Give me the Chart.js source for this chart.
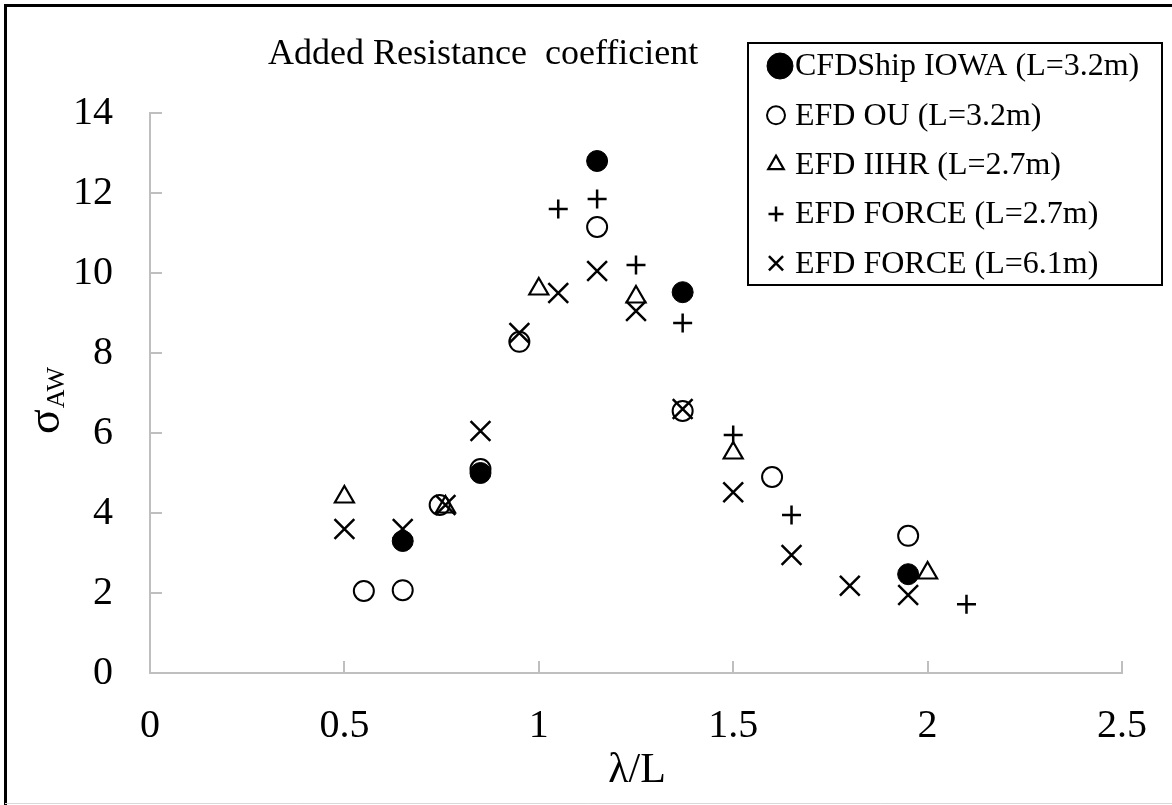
<!DOCTYPE html>
<html lang="en">
<head>
  <meta charset="UTF-8">
  <title>Added Resistance coefficient</title>
  <script src="https://cdn.jsdelivr.net/npm/chart.js"></script>
  <style>
    html, body { margin: 0; padding: 0; background: white; }
    #wrap { width: 1172px; height: 805px; position: relative; }
  </style>
</head>
<body>
<div id="wrap"><canvas id="aw-chart" width="1172" height="805"></canvas></div>

<script>
// sigma_AW vs lambda/L for each source
const seriesNames = ['CFDShip IOWA (L=3.2m)', 'EFD OU (L=3.2m)', 'EFD IIHR (L=2.7m)', 'EFD FORCE (L=2.7m)', 'EFD FORCE (L=6.1m)'];

const cfdX = [0.65, 0.85, 1.15, 1.37, 1.95];
const cfdY = [3.3, 5.0, 12.8, 9.52, 2.47];

const ouX = [0.55, 0.65, 0.745, 0.85, 0.95, 1.15, 1.37, 1.6, 1.95];
const ouY = [2.05, 2.07, 4.2, 5.1, 8.28, 11.15, 6.55, 4.9, 3.43];

const iihrX = [0.5, 0.76, 1.0, 1.25, 1.5, 2.0];
const iihrY = [4.4, 4.15, 9.6, 9.4, 5.5, 2.5];

const force27X = [1.05, 1.15, 1.25, 1.37, 1.5, 1.65, 2.1];
const force27Y = [11.6, 11.85, 10.2, 8.75, 5.95, 3.95, 1.72];

const force61X = [0.5, 0.65, 0.76, 0.85, 0.95, 1.05, 1.15, 1.25, 1.37, 1.5, 1.65, 1.8, 1.95];
const force61Y = [3.6, 3.6, 4.2, 6.05, 8.5, 9.5, 10.05, 9.05, 6.6, 4.52, 2.95, 2.18, 1.95];

const xTickValues = [0, 0.5, 1, 1.5, 2, 2.5];
const xTickLabels = ['0', '0.5', '1', '1.5', '2', '2.5'];
const yTickValues = [0, 2, 4, 6, 8, 10, 12, 14];
const yTickLabels = ['0', '2', '4', '6', '8', '10', '12', '14'];

const chartTitle = 'Added Resistance  coefficient';
const xTitle = 'λ/L';
const yTitleMain = 'σ';
const yTitleSub = 'AW';

const SERIF = '"Liberation Serif", "Times New Roman", serif';
const AXIS_GRAY = '#bfbfbf';

function pairs(xs, ys) { return xs.map((x, i) => ({ x: x, y: ys[i] })); }

// marker looks, plot size and legend size
const markers = [
  { style: 'circle',   r: 10.5, fill: 'black',       bw: 1,   lr: 13 },
  { style: 'circle',   r: 10,   fill: 'transparent', bw: 2,   lr: 9 },
  { style: 'triangle', r: 11,   fill: 'transparent', bw: 2.2, lr: 9 },
  { style: 'cross',    r: 9.5,  fill: 'transparent', bw: 2.5, lr: 7.5 },
  { style: 'crossRot', r: 14,   fill: 'transparent', bw: 2.5, lr: 10 }
];

const seriesData = [pairs(cfdX, cfdY), pairs(ouX, ouY), pairs(iihrX, iihrY), pairs(force27X, force27Y), pairs(force61X, force61Y)];

const datasets = seriesNames.map((name, i) => ({
  label: name,
  data: seriesData[i],
  pointStyle: markers[i].style,
  pointRadius: markers[i].r,
  pointHoverRadius: markers[i].r,
  pointBorderWidth: markers[i].bw,
  borderColor: 'black',
  backgroundColor: markers[i].fill,
  showLine: false
}));

// white page, dark frame on the left and top, faint line at the bottom
const framePlugin = {
  id: 'frame',
  beforeDraw(chart) {
    const ctx = chart.ctx;
    ctx.save();
    ctx.fillStyle = 'white';
    ctx.fillRect(0, 0, chart.width, chart.height);
    ctx.strokeStyle = 'black';
    ctx.lineWidth = 3;
    ctx.beginPath();
    ctx.moveTo(5.5, chart.height);
    ctx.lineTo(5.5, 5.5);
    ctx.lineTo(chart.width, 5.5);
    ctx.stroke();
    ctx.strokeStyle = '#d9d9d9';
    ctx.lineWidth = 1;
    ctx.beginPath();
    ctx.moveTo(5, chart.height - 1.5);
    ctx.lineTo(chart.width, chart.height - 1.5);
    ctx.stroke();
    ctx.restore();
  }
};

// short tick marks pointing into the plot
const innerTicks = {
  id: 'innerTicks',
  afterDraw(chart) {
    const { ctx, chartArea } = chart;
    const xs = chart.scales.x, ys = chart.scales.y;
    ctx.save();
    ctx.strokeStyle = AXIS_GRAY;
    ctx.lineWidth = 2;
    ctx.beginPath();
    xTickValues.forEach(v => {
      const px = Math.round(xs.getPixelForValue(v));
      ctx.moveTo(px, chartArea.bottom);
      ctx.lineTo(px, chartArea.bottom - 12);
    });
    yTickValues.forEach(v => {
      const py = Math.round(ys.getPixelForValue(v));
      ctx.moveTo(chartArea.left, py);
      ctx.lineTo(chartArea.left + 12, py);
    });
    ctx.stroke();
    ctx.restore();
  }
};

// title, axis titles and the boxed legend
const textBits = {
  id: 'textBits',
  afterDraw(chart) {
    const ctx = chart.ctx;
    ctx.save();
    ctx.fillStyle = 'black';

    ctx.font = '36px ' + SERIF;
    ctx.textAlign = 'left';
    ctx.textBaseline = 'alphabetic';
    ctx.fillText(chartTitle, 268, 64);

    ctx.font = '42px ' + SERIF;
    ctx.textAlign = 'center';
    ctx.textBaseline = 'middle';
    ctx.fillText(xTitle, 637, 771);

    // sigma with AW subscript, turned to read upward
    ctx.save();
    ctx.translate(59, 434);
    ctx.rotate(-Math.PI / 2);
    ctx.textAlign = 'left';
    ctx.textBaseline = 'alphabetic';
    ctx.font = '46px ' + SERIF;
    ctx.fillText(yTitleMain, 0, 0);
    const w = ctx.measureText(yTitleMain).width;
    ctx.font = '26px ' + SERIF;
    ctx.fillText(yTitleSub, w + 1, 5);
    ctx.restore();

    // legend
    ctx.strokeStyle = 'black';
    ctx.lineWidth = 2;
    ctx.strokeRect(748, 43, 414, 242);
    ctx.font = '32px ' + SERIF;
    ctx.textAlign = 'left';
    ctx.textBaseline = 'middle';
    seriesNames.forEach((name, i) => {
      const cy = 66 + i * 49.3;
      const m = markers[i];
      ctx.fillStyle = m.fill;
      ctx.strokeStyle = 'black';
      ctx.lineWidth = m.bw;
      Chart.helpers.drawPoint(ctx, { pointStyle: m.style, radius: m.lr, rotation: 0, borderWidth: m.bw }, i === 0 ? 780 : 776, cy);
      ctx.fillStyle = 'black';
      ctx.fillText(name, 795, cy + 1);
    });
    ctx.restore();
  }
};

new Chart(document.getElementById('aw-chart').getContext('2d'), {
  type: 'scatter',
  data: { datasets: datasets },
  plugins: [framePlugin, innerTicks, textBits],
  options: {
    responsive: false,
    animation: false,
    events: [],
    layout: { padding: { top: 113, right: 50, bottom: 0, left: 0 } },
    plugins: { legend: { display: false }, title: { display: false }, tooltip: { enabled: false } },
    scales: {
      x: {
        type: 'linear',
        min: 0, max: 2.5,
        afterBuildTicks: s => { s.ticks = xTickValues.map(v => ({ value: v })); },
        afterFit: s => { s.height = 132; s.paddingRight = 0; s.paddingLeft = 0; },
        grid: { display: true, drawOnChartArea: false, drawTicks: false },
        border: { display: true, color: AXIS_GRAY, width: 2 },
        ticks: {
          color: 'black', padding: 29, maxRotation: 0, font: { family: SERIF, size: 40 },
          callback: (v, i) => xTickLabels[i]
        }
      },
      y: {
        type: 'linear',
        min: 0, max: 14,
        afterBuildTicks: s => { s.ticks = yTickValues.map(v => ({ value: v })); },
        afterFit: s => { s.width = 150; s.paddingTop = 0; s.paddingBottom = 0; },
        grid: { display: true, drawOnChartArea: false, drawTicks: false },
        border: { display: true, color: AXIS_GRAY, width: 2 },
        ticks: {
          color: 'black', padding: 37, font: { family: SERIF, size: 40 },
          callback: (v, i) => yTickLabels[i]
        }
      }
    }
  }
});
</script>
</body>
</html>
